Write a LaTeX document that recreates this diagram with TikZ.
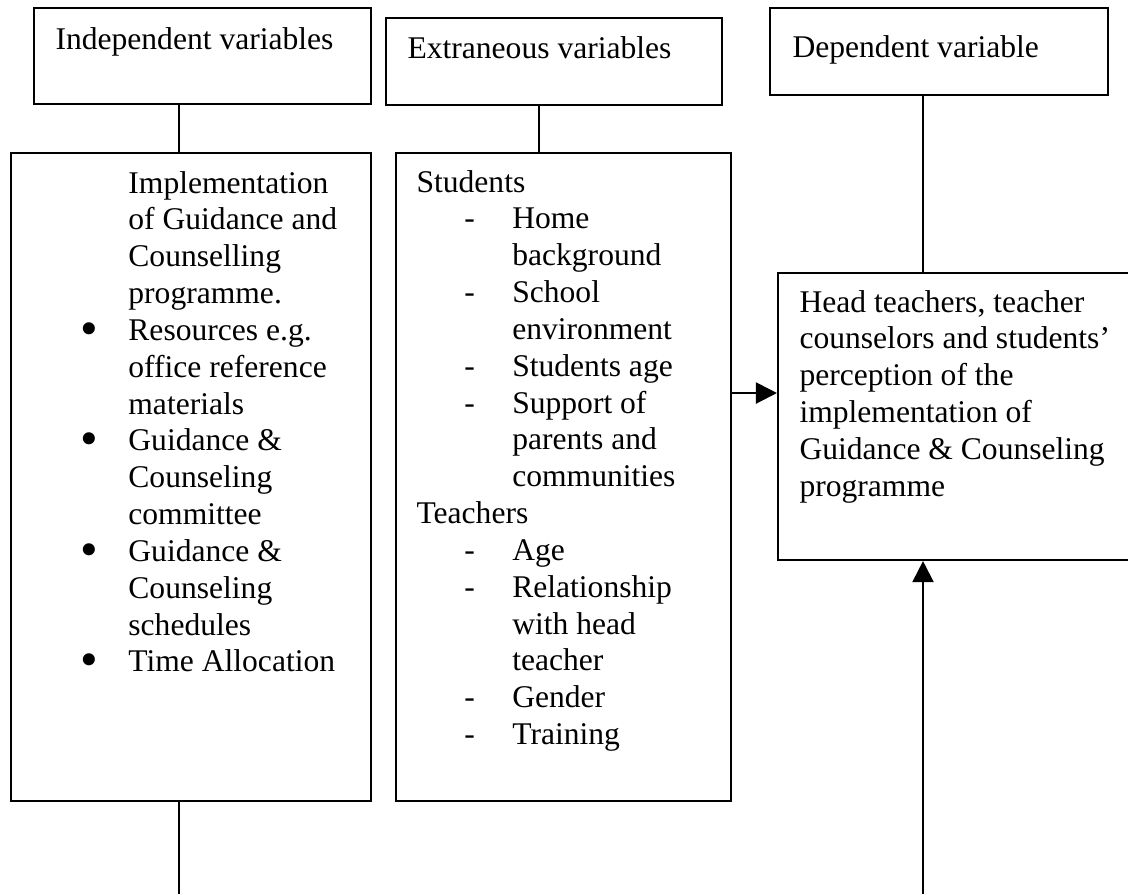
\documentclass[tikz,border=0pt]{standalone}
\usepackage{fontspec}
\setmainfont{Liberation Serif}
\usetikzlibrary{arrows.meta,fit}

% indentation of list marks inside the boxes
\newlength{\markwd}
\setlength{\markwd}{18.2pt}
\newcommand{\bigdot}{\raisebox{-1.8pt}{\scalebox{1.6}{\textbullet}}}
\newcommand{\bulletrow}[1]{\makebox[\markwd][l]{\bigdot}#1}
\newcommand{\holdrow}[1]{\hspace*{\markwd}#1}
\newcommand{\dashrow}[1]{\hspace*{\markwd}\makebox[\markwd][l]{-}#1}
\newcommand{\subrow}[1]{\hspace*{2\markwd}#1}

\tikzset{
  varbox/.style={draw, line width=0.8pt, inner sep=0pt},
  vartext/.style={anchor=base west, inner sep=0pt, font=\fontsize{12}{14}\selectfont},
  link/.style={line width=0.8pt},
  feed/.style={line width=0.8pt, -{Triangle[length=8pt, width=8pt]}},
}

\begin{document}
\begin{tikzpicture}[x=0.38pt, y=-0.38pt]
    \useasboundingbox (0,0) rectangle (1128,894);
    \clip (0,0) rectangle (1128,894);

    % Heading boxes
    \node[varbox, fit={(34,8) (371,104)}] (indep) {};
    \node[vartext] (indeplbl) at (55,49) {Independent variables};
    \node[varbox, fit={(386,18) (722,105)}] (extra) {};
    \node[vartext] (extralbl) at (407,58) {Extraneous variables};
    \node[varbox, fit={(770,8) (1108,95)}] (dep) {};
    \node[vartext] (deplbl) at (792,57) {Dependent variable};

    % Independent variables
    \node[varbox, fit={(11,153) (371,801)}] (implem) {};
    \node[vartext] (implemlbl) at (80,193) {\begin{tabular}[t]{@{}l@{}}
      \holdrow{Implementation}\\
      \holdrow{of Guidance and}\\
      \holdrow{Counselling}\\
      \holdrow{programme.}\\
      \bulletrow{Resources e.g.}\\
      \holdrow{office reference}\\
      \holdrow{materials}\\
      \bulletrow{Guidance \&}\\
      \holdrow{Counseling}\\
      \holdrow{committee}\\
      \bulletrow{Guidance \&}\\
      \holdrow{Counseling}\\
      \holdrow{schedules}\\
      \bulletrow{Time Allocation}
    \end{tabular}};

    % Extraneous variables
    \node[varbox, fit={(396,153) (731,801)}] (factors) {};
    \node[vartext] (factorslbl) at (416,192) {\begin{tabular}[t]{@{}l@{}}
      Students\\
      \dashrow{Home}\\
      \subrow{background}\\
      \dashrow{School}\\
      \subrow{environment}\\
      \dashrow{Students age}\\
      \dashrow{Support of}\\
      \subrow{parents and}\\
      \subrow{communities}\\
      Teachers\\
      \dashrow{Age}\\
      \dashrow{Relationship}\\
      \subrow{with head}\\
      \subrow{teacher}\\
      \dashrow{Gender}\\
      \dashrow{Training}
    \end{tabular}};

    % Dependent variable
    \node[varbox, fit={(778,273) (1140,560)}] (percep) {};
    \node[vartext] (perceplbl) at (799,312) {\begin{tabular}[t]{@{}l@{}}
      Head teachers, teacher\\
      counselors and students’\\
      perception of the\\
      implementation of\\
      Guidance \& Counseling\\
      programme
    \end{tabular}};

    % Connectors
    \coordinate (stemA) at (179,0);
    \coordinate (stemB) at (539,0);
    \coordinate (stemC) at (923,0);
    \coordinate (midrow) at (0,393);
    \coordinate (footA) at (179,894);
    \coordinate (footC) at (923,894);

    \draw[link] (indep.south -| stemA) -- (implem.north -| stemA);
    \draw[link] (extra.south -| stemB) -- (factors.north -| stemB);
    \draw[link] (dep.south -| stemC) -- (percep.north -| stemC);
    \draw[feed] (factors.east |- midrow) -- (percep.west |- midrow);
    \draw[link] (implem.south -| footA) -- (footA);
    \draw[feed] (footC) -- (percep.south -| footC);
\end{tikzpicture}
\end{document}
